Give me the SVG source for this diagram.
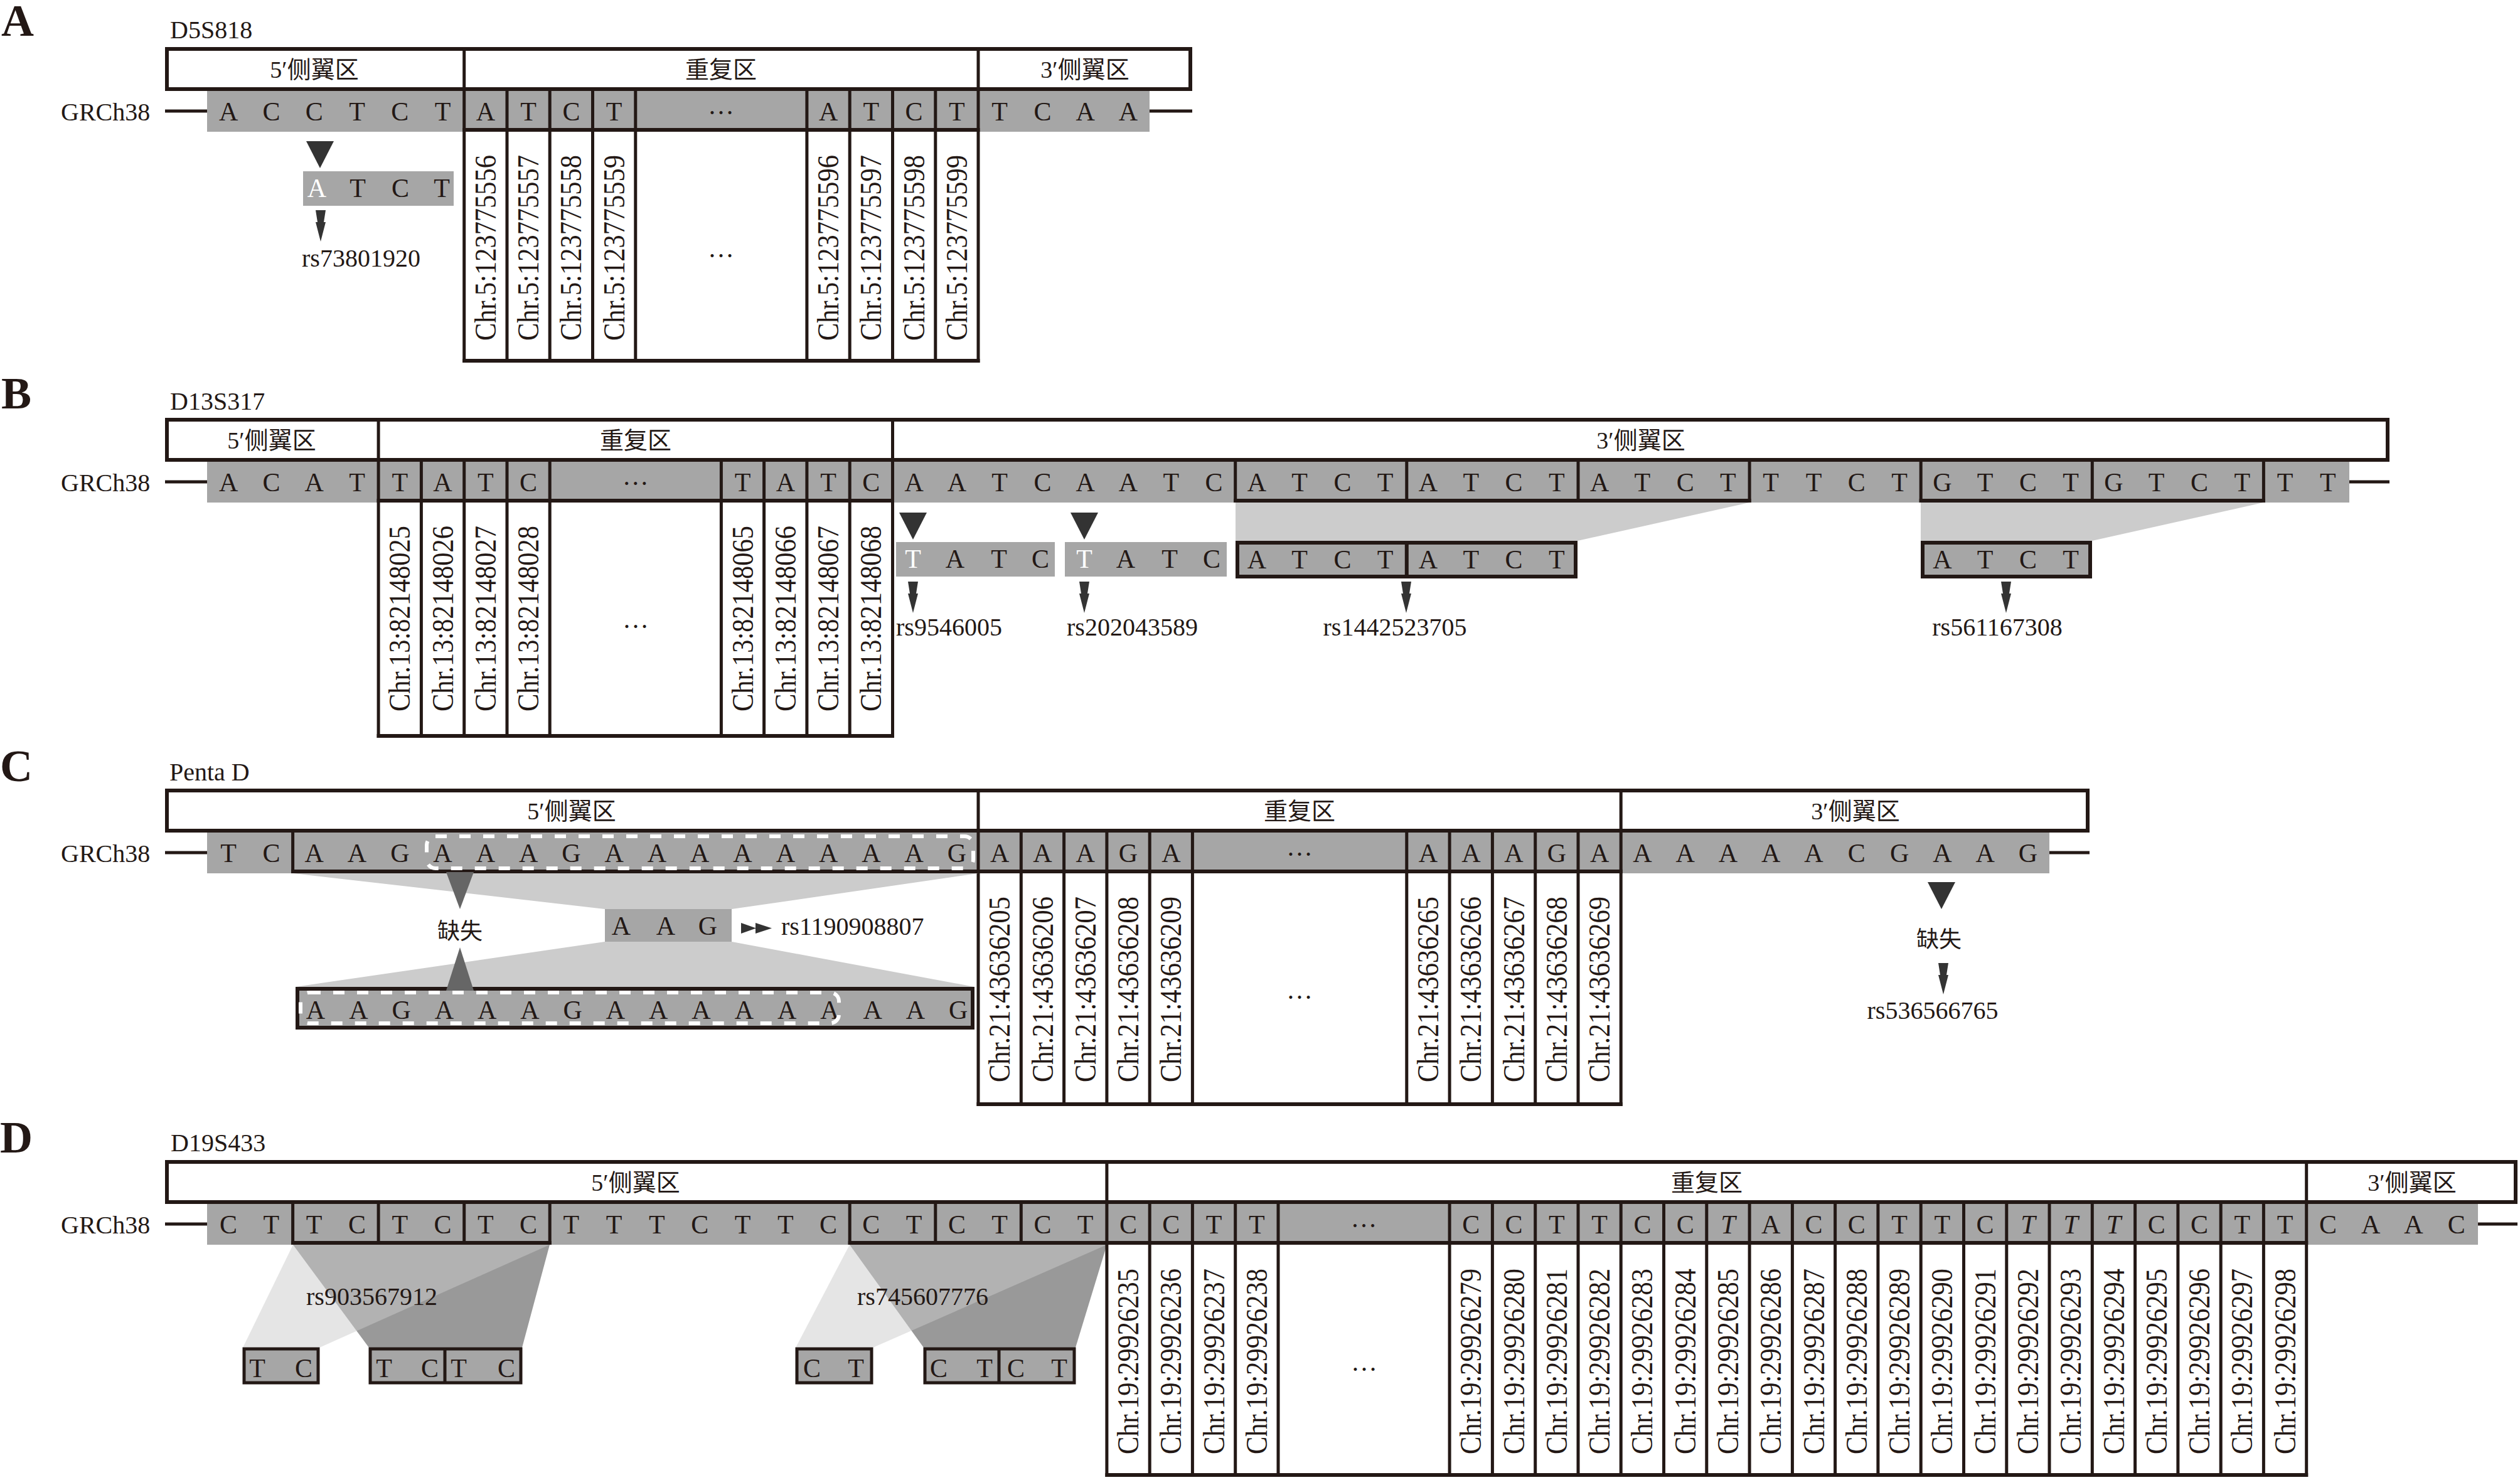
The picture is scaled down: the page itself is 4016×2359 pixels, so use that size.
<svg xmlns="http://www.w3.org/2000/svg" xmlns:xlink="http://www.w3.org/1999/xlink" width="4016" height="2359" viewBox="0 0 4016 2359">
<style>
.t{font-family:"Liberation Serif","Times New Roman",serif;fill:#231815}
.s{font-size:42px;text-anchor:middle}
.l{font-size:40px}
.m{text-anchor:middle}
.h{font-family:"Liberation Serif","Noto Sans CJK SC",serif;font-size:38px;text-anchor:middle;fill:#231815}
.k{font-family:"Noto Sans CJK SC",sans-serif;font-size:36px;text-anchor:middle;fill:#231815}
.c{font-size:48px;text-anchor:middle}
.p{font-size:72px;font-weight:bold}
.bar{fill:#a6a6a6}
.ln{stroke:#231815;stroke-width:5;fill:none}
.lb{stroke:#231815;stroke-width:6;fill:none}
.hd{fill:#fff;stroke:#231815;stroke-width:6}
.bx{fill:#a6a6a6;stroke:#231815;stroke-width:6}
.bx2{fill:#a6a6a6;stroke:#231815;stroke-width:5}
.tri{fill:#333}
.tri2{fill:#666}
.tr{fill:#cccccc}
.dk{fill:#999999}
.lt{fill:#cccccc;fill-opacity:0.5}
.dash{fill:none;stroke:#fff;stroke-width:6;stroke-dasharray:18 20}
.w{fill:#fff}
.it{font-style:italic}
</style>
<defs>
<path id="arr" d="M-8,0H8L5,19H8L0,50L-8,19H-5Z" fill="#333"/>
<path id="tri" d="M-22,0H22L0,43Z" fill="#333"/>
</defs>

<!-- ===================== Panel A ===================== -->
<g id="panelA">
<text class="t p" x="2" y="57">A</text>
<text class="t l" x="271" y="61">D5S818</text>
<g id="A-header">
<rect class="hd" x="266" y="78" width="1631" height="64"/>
<path class="ln" d="M739.7,75V145M1559,75V145"/>
<text class="h" x="501" y="124">5′侧翼区</text>
<text class="h" x="1149" y="124">重复区</text>
<text class="h" x="1729" y="124">3′侧翼区</text>
</g>
<g id="A-seq">
<text class="t l" x="97" y="192">GRCh38</text>
<path class="ln" d="M263,177H330M1832,177H1900"/>
<rect class="bar" x="330" y="145" width="1502" height="65"/>
<text class="t s" y="192" x="364.1 432.4 500.7 569 637.3 705.5 773.8 842.1 910.4 978.7">ACCTCTATCT</text>
<text class="t s" y="192" x="1320.1 1388.3 1456.6 1524.9 1593.2 1661.5 1729.7 1798">ATCTTCAA</text>
<text class="t s" x="1149" y="182">…</text>
<path class="lb" d="M737.2,207H1561.5"/>
</g>
<g id="A-columns">
<path class="ln" d="M739.7,145V578M808,145V578M876.2,145V578M944.5,145V578M1012.8,145V578M1285.9,145V578M1354.2,145V578M1422.5,145V578M1490.8,145V578M1559,145V578"/>
<path class="lb" d="M737.2,575H1561.5"/>
<text class="t c" textLength="296" lengthAdjust="spacingAndGlyphs" transform="translate(789.8,395) rotate(-90)">Chr.5:123775556</text>
<text class="t c" textLength="296" lengthAdjust="spacingAndGlyphs" transform="translate(858.1,395) rotate(-90)">Chr.5:123775557</text>
<text class="t c" textLength="296" lengthAdjust="spacingAndGlyphs" transform="translate(926.4,395) rotate(-90)">Chr.5:123775558</text>
<text class="t c" textLength="296" lengthAdjust="spacingAndGlyphs" transform="translate(994.7,395) rotate(-90)">Chr.5:123775559</text>
<text class="t s" x="1149" y="410">…</text>
<text class="t c" textLength="296" lengthAdjust="spacingAndGlyphs" transform="translate(1336.1,395) rotate(-90)">Chr.5:123775596</text>
<text class="t c" textLength="296" lengthAdjust="spacingAndGlyphs" transform="translate(1404.3,395) rotate(-90)">Chr.5:123775597</text>
<text class="t c" textLength="296" lengthAdjust="spacingAndGlyphs" transform="translate(1472.6,395) rotate(-90)">Chr.5:123775598</text>
<text class="t c" textLength="296" lengthAdjust="spacingAndGlyphs" transform="translate(1540.9,395) rotate(-90)">Chr.5:123775599</text>
</g>
<g id="A-variant">
<rect class="bar" x="483" y="273" width="240" height="55"/>
<text class="t s w" y="314" x="505">A</text>
<text class="t s" y="314" x="570 638 704">TCT</text>
<text class="t l" x="481" y="425">rs73801920</text>
</g>
</g>

<!-- ===================== Panel B ===================== -->
<g id="panelB">
<text class="t p" x="2" y="651">B</text>
<text class="t l" x="271" y="653">D13S317</text>
<g id="B-header">
<rect class="hd" x="266" y="669" width="3539" height="64"/>
<path class="ln" d="M603.1,666V736M1422.5,666V736"/>
<text class="h" x="433" y="715">5′侧翼区</text>
<text class="h" x="1013" y="715">重复区</text>
<text class="h" x="2615" y="715">3′侧翼区</text>
</g>
<g id="B-seq">
<text class="t l" x="97" y="783">GRCh38</text>
<path class="ln" d="M263,768H330M3744,768H3808"/>
<rect class="bar" x="330" y="736" width="3414" height="65"/>
<text class="t s" y="783" x="364.1 432.4 500.7 569 637.3 705.5 773.8 842.1">ACATTATC</text>
<text class="t s" y="783" x="1183.5 1251.8 1320.1 1388.3 1456.6 1524.9 1593.2 1661.5 1729.7 1798 1866.3 1934.6 2002.9 2071.1 2139.4 2207.7 2276 2344.3 2412.5 2480.8 2549.1 2617.4 2685.7 2753.9 2822.2 2890.5 2958.8 3027.1 3095.3 3163.6 3231.9 3300.2 3368.5 3436.7 3505 3573.3 3641.6 3709.9">TATCAATCAATCATCTATCTATCTTTCTGTCTGTCTTT</text>
<text class="t s" x="1012.8" y="773">…</text>
<path class="ln" d="M1968.7,736V801M2241.8,736V801M2515,736V801M2788.1,736V801M3061.2,736V801M3334.3,736V801M3607.4,736V801"/>
<path class="lb" d="M600.6,798H1425M1966.2,798H2790.6M3058.7,798H3609.9"/>
</g>
<g id="B-columns">
<path class="ln" d="M603.1,736V1176M671.4,736V1176M739.7,736V1176M808,736V1176M876.2,736V1176M1149.4,736V1176M1217.6,736V1176M1285.9,736V1176M1354.2,736V1176M1422.5,736V1176"/>
<path class="lb" d="M600.6,1173H1425"/>
<text class="t c" textLength="296" lengthAdjust="spacingAndGlyphs" transform="translate(653.3,986) rotate(-90)">Chr.13:82148025</text>
<text class="t c" textLength="296" lengthAdjust="spacingAndGlyphs" transform="translate(721.5,986) rotate(-90)">Chr.13:82148026</text>
<text class="t c" textLength="296" lengthAdjust="spacingAndGlyphs" transform="translate(789.8,986) rotate(-90)">Chr.13:82148027</text>
<text class="t c" textLength="296" lengthAdjust="spacingAndGlyphs" transform="translate(858.1,986) rotate(-90)">Chr.13:82148028</text>
<text class="t s" x="1013" y="1001">…</text>
<text class="t c" textLength="296" lengthAdjust="spacingAndGlyphs" transform="translate(1199.5,986) rotate(-90)">Chr.13:82148065</text>
<text class="t c" textLength="296" lengthAdjust="spacingAndGlyphs" transform="translate(1267.8,986) rotate(-90)">Chr.13:82148066</text>
<text class="t c" textLength="296" lengthAdjust="spacingAndGlyphs" transform="translate(1336.1,986) rotate(-90)">Chr.13:82148067</text>
<text class="t c" textLength="296" lengthAdjust="spacingAndGlyphs" transform="translate(1404.3,986) rotate(-90)">Chr.13:82148068</text>
</g>
<g id="B-variants">
<rect class="bar" x="1428" y="864" width="253" height="55"/>
<rect class="bar" x="1697" y="864" width="258" height="55"/>
<text class="t s w" y="905" x="1455">T</text>
<text class="t s" y="905" x="1522 1592 1658">ATC</text>
<text class="t s w" y="905" x="1728">T</text>
<text class="t s" y="905" x="1794 1864 1931">ATC</text>
<polygon class="tr" points="1969,801 2788,801 2514,862 1969,862"/>
<polygon class="tr" points="3061,801 3607,801 3334,862 3061,862"/>
<rect class="bx" x="1972" y="865" width="539" height="54"/>
<path class="lb" d="M2241.8,862V922"/>
<rect class="bx" x="3064" y="865" width="267" height="54"/>
<text class="t s" y="906" x="2002.9 2071.1 2139.4 2207.7 2276 2344.3 2412.5 2480.8">ATCTATCT</text>
<text class="t s" y="906" x="3095.3 3163.6 3231.9 3300.2">ATCT</text>
<text class="t l" x="1428" y="1013">rs9546005</text>
<text class="t l" x="1700" y="1013">rs202043589</text>
<text class="t l m" x="2223" y="1013">rs1442523705</text>
<text class="t l m" x="3183" y="1013">rs561167308</text>
</g>
</g>

<!-- ===================== Panel C ===================== -->
<g id="panelC">
<text class="t p" x="0" y="1245">C</text>
<text class="t l" x="270" y="1244">Penta D</text>
<g id="C-header">
<rect class="hd" x="266" y="1260" width="3061" height="64"/>
<path class="ln" d="M1559,1257V1327M2583.2,1257V1327"/>
<text class="h" x="911" y="1306">5′侧翼区</text>
<text class="h" x="2071" y="1306">重复区</text>
<text class="h" x="2957" y="1306">3′侧翼区</text>
</g>
<g id="C-seq">
<text class="t l" x="97" y="1374">GRCh38</text>
<path class="ln" d="M263,1359H330M3266,1359H3330"/>
<rect class="bar" x="330" y="1327" width="2936" height="65"/>
<text class="t s" y="1374" x="364.1 432.4 500.7 569 637.3 705.5 773.8 842.1 910.4 978.7 1046.9 1115.2 1183.5 1251.8 1320.1 1388.3 1456.6 1524.9 1593.2 1661.5 1729.7 1798 1866.3">TCAAGAAAGAAAAAAAAGAAAGA</text>
<text class="t s" y="1374" x="2276 2344.3 2412.5 2480.8 2549.1 2617.4 2685.7 2753.9 2822.2 2890.5 2958.8 3027.1 3095.3 3163.6 3231.9">AAAGAAAAAACGAAG</text>
<text class="t s" x="2071" y="1364">…</text>
<path class="ln" d="M466.6,1327V1392"/>
<path class="lb" d="M464.1,1389H2585.7"/>
<rect class="dash" x="680" y="1333" width="871" height="51" rx="14"/>
</g>
<g id="C-columns">
<path class="ln" d="M1559,1327V1763M1627.3,1327V1763M1695.6,1327V1763M1763.9,1327V1763M1832.2,1327V1763M1900.4,1327V1763M2241.8,1327V1763M2310.1,1327V1763M2378.4,1327V1763M2446.7,1327V1763M2515,1327V1763M2583.2,1327V1763"/>
<path class="lb" d="M1556.5,1760H2585.7"/>
<text class="t c" textLength="296" lengthAdjust="spacingAndGlyphs" transform="translate(1609.2,1577) rotate(-90)">Chr.21:43636205</text>
<text class="t c" textLength="296" lengthAdjust="spacingAndGlyphs" transform="translate(1677.5,1577) rotate(-90)">Chr.21:43636206</text>
<text class="t c" textLength="296" lengthAdjust="spacingAndGlyphs" transform="translate(1745.7,1577) rotate(-90)">Chr.21:43636207</text>
<text class="t c" textLength="296" lengthAdjust="spacingAndGlyphs" transform="translate(1814,1577) rotate(-90)">Chr.21:43636208</text>
<text class="t c" textLength="296" lengthAdjust="spacingAndGlyphs" transform="translate(1882.3,1577) rotate(-90)">Chr.21:43636209</text>
<text class="t s" x="2071" y="1592">…</text>
<text class="t c" textLength="296" lengthAdjust="spacingAndGlyphs" transform="translate(2292,1577) rotate(-90)">Chr.21:43636265</text>
<text class="t c" textLength="296" lengthAdjust="spacingAndGlyphs" transform="translate(2360.3,1577) rotate(-90)">Chr.21:43636266</text>
<text class="t c" textLength="296" lengthAdjust="spacingAndGlyphs" transform="translate(2428.5,1577) rotate(-90)">Chr.21:43636267</text>
<text class="t c" textLength="296" lengthAdjust="spacingAndGlyphs" transform="translate(2496.8,1577) rotate(-90)">Chr.21:43636268</text>
<text class="t c" textLength="296" lengthAdjust="spacingAndGlyphs" transform="translate(2565.1,1577) rotate(-90)">Chr.21:43636269</text>
</g>
<g id="C-variant">
<polygon class="tr" points="467,1392 1559,1392 1166,1449 964,1449"/>
<polygon class="tr" points="964,1501 1166,1501 1553,1573 471,1573"/>
<rect class="bar" x="964" y="1449" width="202" height="52"/>
<text class="t s" y="1490" x="990 1061 1128">AAG</text>
<rect class="bx" x="474" y="1576" width="1076" height="62"/>
<text class="t s" y="1624" x="503 571.3 639.6 707.8 776.1 844.4 912.7 981 1049.2 1117.5 1185.8 1254.1 1322.4 1390.6 1458.9 1527.2">AAGAAAGAAAAAAAAG</text>
<rect class="dash" x="479" y="1582" width="858" height="49" rx="14"/>
<text class="k" x="733" y="1497">缺失</text>
<text class="t l" x="1245" y="1490">rs1190908807</text>
<text class="k" x="3090" y="1510">缺失</text>
<text class="t l m" x="3080" y="1624">rs536566765</text>
</g>
</g>

<!-- ===================== Panel D ===================== -->
<g id="panelD">
<text class="t p" x="0" y="1837">D</text>
<text class="t l" x="272" y="1835">D19S433</text>
<g id="D-header">
<rect class="hd" x="266" y="1852" width="3743" height="64"/>
<path class="ln" d="M1763.9,1849V1919M3675.7,1849V1919"/>
<text class="h" x="1013" y="1898">5′侧翼区</text>
<text class="h" x="2720" y="1898">重复区</text>
<text class="h" x="3844" y="1898">3′侧翼区</text>
</g>
<g id="D-variants-bg">
<polygon class="dk" points="467,1984 876,1984 832,2148 588,2148"/>
<polygon class="lt" points="467,1984 876,1984 509,2148 387,2148"/>
<polygon class="dk" points="1354,1984 1764,1984 1714,2148 1472,2148"/>
<polygon class="lt" points="1354,1984 1764,1984 1391,2148 1268,2148"/>
</g>
<g id="D-seq">
<text class="t l" x="97" y="1966">GRCh38</text>
<path class="ln" d="M263,1951H330M3949,1951H4012"/>
<rect class="bar" x="330" y="1919" width="3619" height="65"/>
<text class="t s" y="1966" x="364.1 432.4 500.7 569 637.3 705.5 773.8 842.1 910.4 978.7 1046.9 1115.2 1183.5 1251.8 1320.1 1388.3 1456.6 1524.9 1593.2 1661.5 1729.7 1798 1866.3 1934.6 2002.9">CTTCTCTCTTTCTTCCTCTCTCCTT</text>
<text class="t s" y="1966" x="2344.3 2412.5 2480.8 2549.1 2617.4 2685.7">CCTTCC</text>
<text class="t s it" y="1966" x="2753.9">T</text>
<text class="t s" y="1966" x="2822.2 2890.5 2958.8 3027.1 3095.3 3163.6">ACCTTC</text>
<text class="t s it" y="1966" x="3231.9 3300.2 3368.5">TTT</text>
<text class="t s" y="1966" x="3436.7 3505 3573.3 3641.6 3709.9 3778.1 3846.4 3914.7">CCTTCAAC</text>
<text class="t s" x="2173.6" y="1956">…</text>
<path class="ln" d="M466.6,1919V1984M603.1,1919V1984M739.7,1919V1984M876.2,1919V1984M1354.2,1919V1984M1490.8,1919V1984M1627.3,1919V1984"/>
<path class="lb" d="M464.1,1981H878.7M1351.7,1981H3678.2"/>
</g>
<g id="D-columns">
<path class="ln" d="M1763.9,1919V2354M1832.2,1919V2354M1900.4,1919V2354M1968.7,1919V2354M2037,1919V2354M2310.1,1919V2354M2378.4,1919V2354M2446.7,1919V2354M2515,1919V2354M2583.2,1919V2354M2651.5,1919V2354M2719.8,1919V2354M2788.1,1919V2354M2856.4,1919V2354M2924.6,1919V2354M2992.9,1919V2354M3061.2,1919V2354M3129.5,1919V2354M3197.8,1919V2354M3266,1919V2354M3334.3,1919V2354M3402.6,1919V2354M3470.9,1919V2354M3539.2,1919V2354M3607.4,1919V2354M3675.7,1919V2354"/>
<path class="lb" d="M1761.4,2351H3678.2"/>
<text class="t c" textLength="296" lengthAdjust="spacingAndGlyphs" transform="translate(1814,2170) rotate(-90)">Chr.19:29926235</text>
<text class="t c" textLength="296" lengthAdjust="spacingAndGlyphs" transform="translate(1882.3,2170) rotate(-90)">Chr.19:29926236</text>
<text class="t c" textLength="296" lengthAdjust="spacingAndGlyphs" transform="translate(1950.6,2170) rotate(-90)">Chr.19:29926237</text>
<text class="t c" textLength="296" lengthAdjust="spacingAndGlyphs" transform="translate(2018.9,2170) rotate(-90)">Chr.19:29926238</text>
<text class="t s" x="2174" y="2185">…</text>
<text class="t c" textLength="296" lengthAdjust="spacingAndGlyphs" transform="translate(2360.3,2170) rotate(-90)">Chr.19:29926279</text>
<text class="t c" textLength="296" lengthAdjust="spacingAndGlyphs" transform="translate(2428.5,2170) rotate(-90)">Chr.19:29926280</text>
<text class="t c" textLength="296" lengthAdjust="spacingAndGlyphs" transform="translate(2496.8,2170) rotate(-90)">Chr.19:29926281</text>
<text class="t c" textLength="296" lengthAdjust="spacingAndGlyphs" transform="translate(2565.1,2170) rotate(-90)">Chr.19:29926282</text>
<text class="t c" textLength="296" lengthAdjust="spacingAndGlyphs" transform="translate(2633.4,2170) rotate(-90)">Chr.19:29926283</text>
<text class="t c" textLength="296" lengthAdjust="spacingAndGlyphs" transform="translate(2701.7,2170) rotate(-90)">Chr.19:29926284</text>
<text class="t c" textLength="296" lengthAdjust="spacingAndGlyphs" transform="translate(2769.9,2170) rotate(-90)">Chr.19:29926285</text>
<text class="t c" textLength="296" lengthAdjust="spacingAndGlyphs" transform="translate(2838.2,2170) rotate(-90)">Chr.19:29926286</text>
<text class="t c" textLength="296" lengthAdjust="spacingAndGlyphs" transform="translate(2906.5,2170) rotate(-90)">Chr.19:29926287</text>
<text class="t c" textLength="296" lengthAdjust="spacingAndGlyphs" transform="translate(2974.8,2170) rotate(-90)">Chr.19:29926288</text>
<text class="t c" textLength="296" lengthAdjust="spacingAndGlyphs" transform="translate(3043.1,2170) rotate(-90)">Chr.19:29926289</text>
<text class="t c" textLength="296" lengthAdjust="spacingAndGlyphs" transform="translate(3111.3,2170) rotate(-90)">Chr.19:29926290</text>
<text class="t c" textLength="296" lengthAdjust="spacingAndGlyphs" transform="translate(3179.6,2170) rotate(-90)">Chr.19:29926291</text>
<text class="t c" textLength="296" lengthAdjust="spacingAndGlyphs" transform="translate(3247.9,2170) rotate(-90)">Chr.19:29926292</text>
<text class="t c" textLength="296" lengthAdjust="spacingAndGlyphs" transform="translate(3316.2,2170) rotate(-90)">Chr.19:29926293</text>
<text class="t c" textLength="296" lengthAdjust="spacingAndGlyphs" transform="translate(3384.5,2170) rotate(-90)">Chr.19:29926294</text>
<text class="t c" textLength="296" lengthAdjust="spacingAndGlyphs" transform="translate(3452.7,2170) rotate(-90)">Chr.19:29926295</text>
<text class="t c" textLength="296" lengthAdjust="spacingAndGlyphs" transform="translate(3521,2170) rotate(-90)">Chr.19:29926296</text>
<text class="t c" textLength="296" lengthAdjust="spacingAndGlyphs" transform="translate(3589.3,2170) rotate(-90)">Chr.19:29926297</text>
<text class="t c" textLength="296" lengthAdjust="spacingAndGlyphs" transform="translate(3657.6,2170) rotate(-90)">Chr.19:29926298</text>
</g>
<g id="D-variants">
<rect class="bx2" x="389" y="2150" width="118" height="54"/>
<rect class="bx2" x="590" y="2150" width="240" height="54"/>
<rect class="bx2" x="1270" y="2150" width="119" height="54"/>
<rect class="bx2" x="1474" y="2150" width="238" height="54"/>
<path class="ln" d="M709,2148V2206M1592,2148V2206"/>
<text class="t s" y="2195" x="410 484">TC</text>
<text class="t s" y="2195" x="612 685 731 807">TCTC</text>
<text class="t s" y="2195" x="1294 1364">CT</text>
<text class="t s" y="2195" x="1496 1569 1619 1688">CTCT</text>
<text class="t l" x="488" y="2080">rs903567912</text>
<text class="t l" x="1366" y="2080">rs745607776</text>
</g>
</g>

<!-- ===================== Connectors (arrows / markers) ===================== -->
<g id="connectors">
<use xlink:href="#tri" x="510" y="225"/>
<use xlink:href="#arr" x="511" y="335"/>
<use xlink:href="#tri" x="1455" y="817"/>
<use xlink:href="#tri" x="1728" y="817"/>
<use xlink:href="#arr" x="1455" y="927"/>
<use xlink:href="#arr" x="1728" y="927"/>
<use xlink:href="#arr" x="2241" y="927"/>
<use xlink:href="#arr" x="3197" y="927"/>
<path class="tri2" d="M711,1390H755L733,1449Z"/>
<path class="tri2" d="M733,1510L711,1579H755Z"/>
<path class="tri" d="M1181,1471V1488L1205,1479.5ZM1204,1471V1488L1230,1479.5Z"/>
<use xlink:href="#tri" x="3094" y="1406"/>
<use xlink:href="#arr" x="3097" y="1535"/>
</g>
</svg>
